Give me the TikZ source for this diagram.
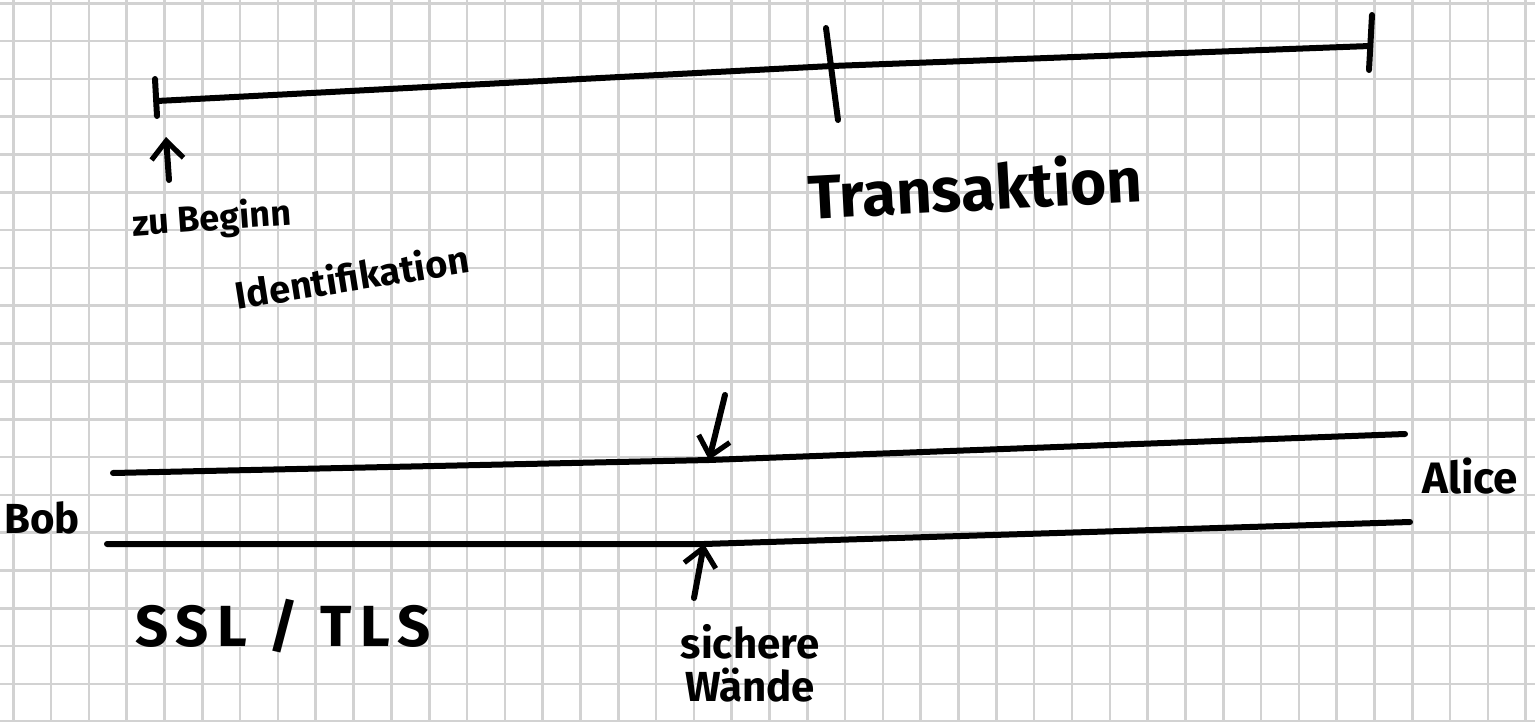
\documentclass[tikz,border=0pt]{standalone}
\usepackage{fontspec}
\setmainfont{Fira Sans}
\usetikzlibrary{arrows.meta,positioning}
\definecolor{gridgray}{RGB}{210,210,210}

\begin{document}
\begin{tikzpicture}[
    x=0.5pt, y=-0.5pt,
    gridline/.style={draw=gridgray, line width=1.3pt},
    stroke/.style={line width=3pt, line cap=round, line join=round},
    arrow/.style={stroke, -{Straight Barb[length=9pt, width=16pt, line width=2.6pt]}},
    hand/.style={inner sep=0pt, font=\fontsize{#1}{#1}\selectfont\bfseries},
    hand/.default=22pt
]
\useasboundingbox[fill=white] (0,0) rectangle (1535,722);
\foreach \i in {0,...,40}
  \draw[gridline] ({13.3+37.81*\i},0) -- ({13.3+37.81*\i},722);
\foreach \j in {0,...,19}
  \draw[gridline] (0,{3.3+37.81*\j}) -- (1535,{3.3+37.81*\j});

% timeline
\coordinate (t1) at (157,101);
\coordinate (t2) at (832,66);
\coordinate (t3) at (1370,46);
\draw[stroke] (t1) -- (t2) -- (t3);
\draw[stroke] (155,79) -- (157,116);
\draw[stroke] (826,28) -- (838,120);
\draw[stroke] (1372,15) -- (1369,70);

\coordinate (a1) at (169,180);
\coordinate (a1tip) at (166,137);
\draw[arrow] (a1) -- (a1tip);
\node[hand=18pt, rotate=4] (start) at (212,220) {zu Beginn};
\node[hand=19pt, rotate=9] (ident) at (352,276) {Identifikation};
\node[hand=31pt, rotate=3] (trans) at (975,186) {Transaktion};

% channel
\coordinate (u1) at (113,473);
\coordinate (u2) at (709,460);
\coordinate (u3) at (1405,434);
\coordinate (l1) at (107,544);
\coordinate (l2) at (704,544);
\coordinate (l3) at (1410,522);
\draw[stroke] (u1) -- (u2) -- (u3);
\draw[stroke] (l1) -- (l2) -- (l3);

\coordinate (a2) at (725,395);
\coordinate (a3) at (694,598);
\draw[arrow] (a2) -- (u2);
\draw[arrow] (a3) -- (l2);

\node[hand=21pt] (bob) at (42,518) {Bob};
\node[hand=22pt] (alice) at (1470,476) {Alice};
\node[hand=29pt] (ssl) at (283,626) {\addfontfeatures{LetterSpace=14}SSL / TLS};
\node[hand=21pt] (sichere) at (750,642) {sichere};
\node[hand=21pt, below=4pt of sichere] (waende) {Wände};
\end{tikzpicture}
\end{document}
